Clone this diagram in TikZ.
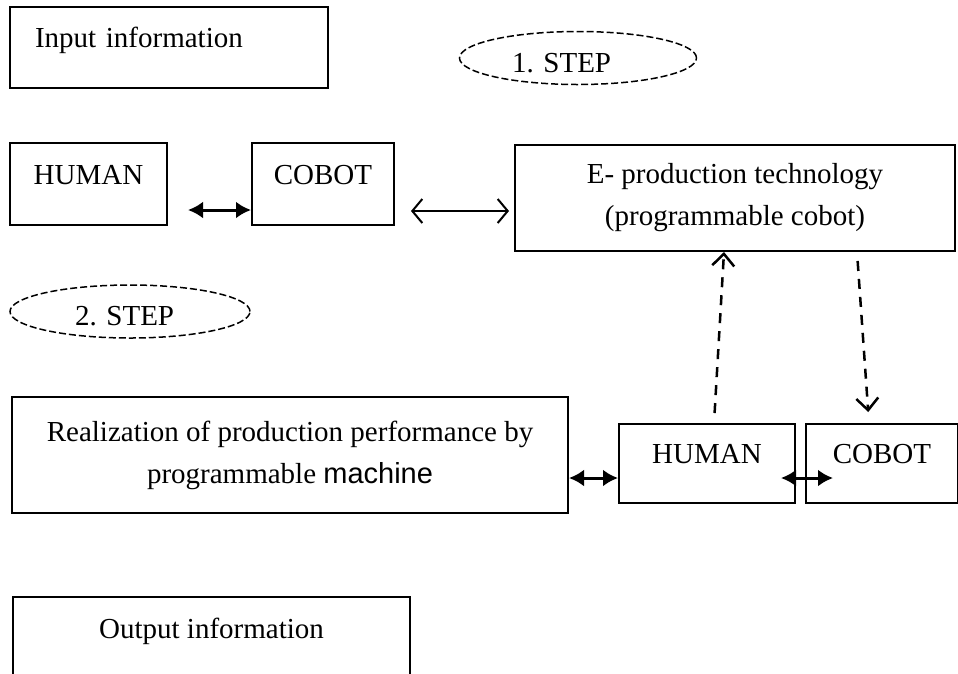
\documentclass[tikz,border=0pt]{standalone}
\usepackage{fontspec}
\setmainfont{Liberation Serif}
\newfontfamily\machinefont{Liberation Sans}
\usetikzlibrary{positioning, shapes, shapes.geometric, arrows.meta, calc}
\tikzstyle{box}=[rectangle, draw, line width=2pt, inner sep=0pt]
\tikzstyle{onebox}=[box, text height=0pt, text depth=0pt]
\tikzstyle{stepoval}=[ellipse, draw, dash pattern=on 7pt off 3pt, line width=1.5pt, inner sep=0pt,
  minimum height=53pt, align=left, text height=28pt, text depth=0pt]
\tikzstyle{boldarrow}=[line width=3pt, {Latex[length=15pt,width=17pt]}-{Latex[length=15pt,width=17pt]}]
\tikzstyle{openarrow}=[line width=2pt, {Straight Barb[length=10pt,width=24pt]}-{Straight Barb[length=10pt,width=24pt]}]
\tikzstyle{dashedarrow}=[line width=2.5pt, dash pattern=on 10pt off 8pt, -{Straight Barb[length=12pt,width=22pt]}]

\begin{document}
\begin{tikzpicture}[x=1pt, y=-1pt, font=\fontsize{29}{42}\selectfont]
    \useasboundingbox (0,0) rectangle (958,673);
    	% Nodes
    	\node[onebox, minimum height=81pt, text width=268pt, inner xsep=25pt, align=left] (input) at (169,47.5) {Input information};
    	\node[stepoval, minimum width=237pt, text width=132pt] (stepone) at (578,58) {1.\ STEP};
		\node[onebox, minimum width=157pt, minimum height=82pt] (human) at (88.5,184) {HUMAN};
		\node[onebox, minimum width=142pt, minimum height=82pt, right=83pt of human] (cobot) {COBOT};
		\node[box, minimum width=440pt, minimum height=106pt, align=center] (etech) at (735,198) {
			E- production technology\\
			(programmable cobot)
		};
    	\node[stepoval, minimum width=240pt, text width=110pt] (steptwo) at (130,311.5) {2.\ STEP};
		\node[box, minimum width=556pt, minimum height=116pt, align=center] (realization) at (290,455) {
			Realization of production performance by\\
			programmable {\machinefont machine}
		};
		\node[onebox, minimum width=176pt, minimum height=79pt] (humantwo) at (707,463.5) {HUMAN};
		\node[onebox, minimum width=152pt, minimum height=79pt, right=9pt of humantwo] (cobottwo) {COBOT};
		\node[onebox, minimum width=397pt, minimum height=82pt] (output) at (211.5,638) {Output information};

    	% Full arrows
		\draw[boldarrow, shorten <=20pt] ([yshift=-26pt]human.east) -- ([yshift=-26pt]cobot.west);
		\draw[openarrow, shorten <=16pt, shorten >=5pt] ([yshift=-27pt]cobot.east) -- ([yshift=-27pt]cobot.east -| etech.west);
		\draw[boldarrow] ([yshift=-23pt]realization.east) -- ([yshift=-23pt]realization.east -| humantwo.west);
		\draw[boldarrow, shorten <=-15pt, shorten >=-28pt] ([yshift=-14.5pt]humantwo.east) -- ([yshift=-14.5pt]cobottwo.west);

		% Dashed arrows
		\draw[dashedarrow, shorten <=10pt] ([xshift=7pt]humantwo.north) -- ([xshift=-11pt]etech.south);
		\draw[dashedarrow, shorten <=9pt, shorten >=11pt] ([xshift=122pt]etech.south) -- ([xshift=-13pt]cobottwo.north);
    \end{tikzpicture}
\end{document}
